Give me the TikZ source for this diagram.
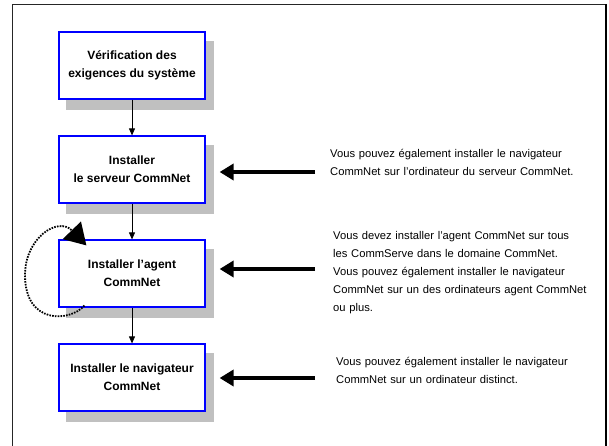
\documentclass[tikz,border=0pt]{standalone}
\usepackage{fontspec}
\setmainfont{Liberation Sans}
\usetikzlibrary{arrows.meta,calc,backgrounds}
\definecolor{boxblue}{RGB}{0,0,255}
\definecolor{shadowgray}{RGB}{192,192,192}
\begin{document}
\begin{tikzpicture}[x=1pt,y=-1pt,
  stepbox/.style={draw=boxblue, line width=1.2pt, fill=white,
    minimum width=146pt, minimum height=67pt, inner sep=0pt, align=center,
    font=\fontsize{12}{18}\selectfont\bfseries},
  boxshadow/.style={fill=shadowgray},
  note/.style={anchor=base west, inner sep=0pt, align=left, text width=270pt,
    font=\fontsize{11.2}{18}\selectfont},
  flow/.style={-{Triangle[length=7pt,width=6pt]}, line width=0.8pt},
  bigarrow/.style={-{Triangle[length=14pt,width=16pt]}, line width=4.8pt},
  loopline/.style={-{Triangle[length=21pt,width=25pt]}, line width=1.8pt,
    dash pattern=on 1.6pt off 1.2pt}]
\useasboundingbox (0,0) rectangle (609,446);
% boxes
\node[stepbox] (b1) at (132,65.5) {Vérification des\\exigences du système};
\node[stepbox] (b2) at (132,169.5) {Installer\\le serveur CommNet};
\node[stepbox] (b3) at (132,273.5) {Installer l'agent\\CommNet};
\node[stepbox] (b4) at (132,377.5) {Installer le navigateur\\CommNet};
% shadows
\begin{scope}[on background layer]
\foreach \b in {b1,b2,b3,b4}
  \fill[boxshadow] ([shift={(8,10)}]\b.south west) rectangle ([shift={(8,10)}]\b.north east);
\end{scope}
% frame
\draw[line width=1pt, black!85] (12,447) -- (12,5) -- (606,5);
\draw[line width=2pt] (606,4) -- (606,447);
% notes
\node[note] (t1) at (330,158) {Vous pouvez également installer le navigateur\\CommNet sur l'ordinateur du serveur CommNet.};
\node[note] (t2) at (333,239) {Vous devez installer l'agent CommNet sur tous\\les CommServe dans le domaine CommNet.\\Vous pouvez également installer le navigateur\\CommNet sur un des ordinateurs agent CommNet\\ou plus.};
\node[note] (t3) at (336,365) {Vous pouvez également installer le navigateur\\CommNet sur un ordinateur distinct.};
% flow arrows
\draw[flow] (b1) -- (b2);
\draw[flow] (b2) -- (b3);
\draw[flow] (b3) -- (b4);
% big arrows
\draw[bigarrow] ($([shift={(0,2.5)}]b2.east -| t1.west)+(-15,0)$) -- ([shift={(14,2.5)}]b2.east);
\draw[bigarrow] ($([shift={(0,-4.5)}]b3.east -| t2.west)+(-18,0)$) -- ([shift={(14,-4.5)}]b3.east);
\draw[bigarrow] ($([shift={(0,0.5)}]b4.east -| t3.west)+(-21,0)$) -- ([shift={(14,0.5)}]b4.east);
% loop arrow
\draw[loopline] ([shift={(26,-2)}]b3.south west) .. controls (70,322) and (25,325) .. (25,275)
  .. controls (25,238) and (58,216) .. ([shift={(28,6)}]b3.north west);
\end{tikzpicture}
\end{document}
